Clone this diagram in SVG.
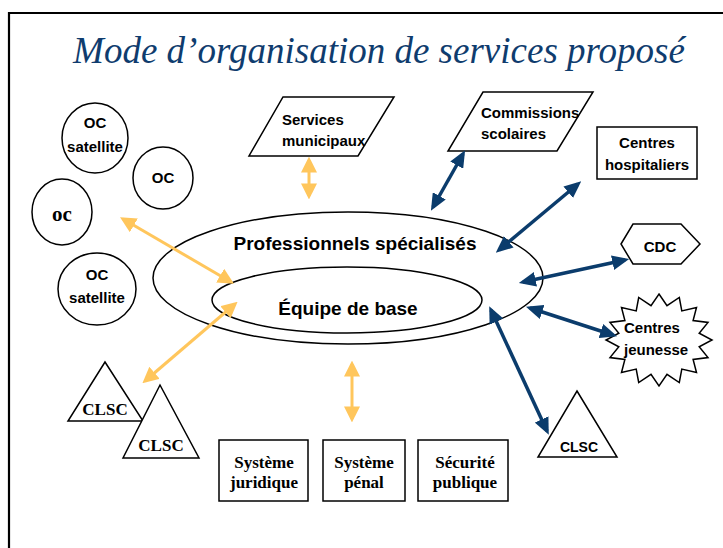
<svg xmlns="http://www.w3.org/2000/svg" width="723" height="548" viewBox="0 0 723 548">
<style>
.shape{fill:#fff;stroke:#000;stroke-width:1.5}
.sans{font-family:"Liberation Sans",Arial,sans-serif;font-weight:bold;fill:#000}
.serif{font-family:"Liberation Serif","Times New Roman",serif;font-weight:bold;fill:#000}
.ya{stroke:#FFC65C;stroke-width:3;fill:none;marker-start:url(#yh);marker-end:url(#yh)}
.ba{stroke:#0B3C6C;stroke-width:3.5;fill:none;marker-start:url(#bh);marker-end:url(#bh)}
</style>
<defs>
<marker id="yh" markerUnits="userSpaceOnUse" markerWidth="16" markerHeight="16" viewBox="0 0 14 14" refX="11" refY="7" orient="auto-start-reverse"><path d="M0,0 L14,7 L0,14 z" fill="#FFC65C"/></marker>
<marker id="bh" markerUnits="userSpaceOnUse" markerWidth="17" markerHeight="15" viewBox="0 0 16 14" refX="12" refY="7" orient="auto-start-reverse"><path d="M0,0 L16,7 L0,14 z" fill="#0B3C6C"/></marker>
</defs>
<rect width="723" height="548" fill="#fff"/>
<path d="M9,548 V13 H723" fill="none" stroke="#000" stroke-width="2.2"/>
<text x="379" y="63" text-anchor="middle" font-family="'Liberation Serif','Times New Roman',serif" font-style="italic" font-size="37" fill="#0F3C6E">Mode d’organisation de services proposé</text>

<g id="professionnels">
<ellipse class="shape" cx="348" cy="278" rx="195" ry="66" stroke-width="2.5"/>
<text class="sans" x="355" y="250" text-anchor="middle" font-size="19">Professionnels spécialisés</text>
</g>
<g id="equipe">
<ellipse class="shape" cx="347" cy="300" rx="135" ry="33"/>
<text class="sans" x="348" y="315" text-anchor="middle" font-size="19">Équipe de base</text>
</g>

<g id="oc-sat1">
<ellipse class="shape" cx="95" cy="138" rx="33" ry="35"/>
<text class="sans" x="95" y="128" text-anchor="middle" font-size="15">OC</text>
<text class="sans" x="95" y="152" text-anchor="middle" font-size="15">satellite</text>
</g>
<g id="oc2">
<ellipse class="shape" cx="163" cy="178" rx="30" ry="31"/>
<text class="sans" x="163" y="183" text-anchor="middle" font-size="15">OC</text>
</g>
<g id="oc3">
<ellipse class="shape" cx="62" cy="212" rx="30" ry="33"/>
<text class="serif" x="62" y="221" text-anchor="middle" font-size="21">oc</text>
</g>
<g id="oc-sat2">
<ellipse class="shape" cx="97" cy="289" rx="39" ry="36"/>
<text class="sans" x="97" y="280" text-anchor="middle" font-size="15">OC</text>
<text class="sans" x="97" y="303" text-anchor="middle" font-size="15">satellite</text>
</g>

<g id="services-municipaux">
<polygon class="shape" points="283,97 394,97 358,156 249,156"/>
<text class="sans" x="282" y="125" font-size="15">Services</text>
<text class="sans" x="282" y="146" font-size="15">municipaux</text>
</g>
<g id="commissions">
<polygon class="shape" points="483,92 593,92 557,151 448,151"/>
<text class="sans" x="481" y="118" font-size="15">Commissions</text>
<text class="sans" x="481" y="139" font-size="15">scolaires</text>
</g>
<g id="centres-hospitaliers">
<rect class="shape" x="597" y="127" width="100" height="52"/>
<text class="sans" x="647" y="148" text-anchor="middle" font-size="15">Centres</text>
<text class="sans" x="647" y="170" text-anchor="middle" font-size="15">hospitaliers</text>
</g>
<g id="cdc">
<polygon class="shape" points="621,244 633,224 681,224 700,244 681,264 633,264"/>
<text class="sans" x="660" y="252" text-anchor="middle" font-size="15">CDC</text>
</g>
<g id="centres-jeunesse">
<polygon class="shape" points="659,294 667,305.7 679.3,297.5 681.8,310.9 696.5,307.5 693.1,320.6 708,322.4 699.2,333.2 712,340 699.2,346.8 708,357.6 693.1,359.4 696.5,372.5 681.8,369.1 679.3,382.5 667,374.3 659,386 651,374.3 638.7,382.5 636.2,369.1 621.5,372.5 624.9,359.4 610,357.6 618.8,346.8 606,340 618.8,333.2 610,322.4 624.9,320.6 621.5,307.5 636.2,310.9 638.7,297.5 651,305.7"/>
<text class="sans" x="624" y="333" font-size="15">Centres</text>
<text class="sans" x="624" y="355" font-size="15">jeunesse</text>
</g>

<g id="clsc1">
<polygon class="shape" points="105,362 143,421 68,421"/>
<text class="serif" x="105" y="415" text-anchor="middle" font-size="17">CLSC</text>
</g>
<g id="clsc2">
<polygon class="shape" points="160,385 199,458 123,458"/>
<text class="serif" x="161" y="451" text-anchor="middle" font-size="17">CLSC</text>
</g>
<g id="clsc3">
<polygon class="shape" points="577,391 617,457 538,457"/>
<text class="sans" x="579" y="452" text-anchor="middle" font-size="14">CLSC</text>
</g>

<g id="systeme-juridique">
<rect class="shape" x="219" y="440" width="89" height="61"/>
<text class="serif" x="264" y="468" text-anchor="middle" font-size="17">Système</text>
<text class="serif" x="264" y="488" text-anchor="middle" font-size="17">juridique</text>
</g>
<g id="systeme-penal">
<rect class="shape" x="323" y="440" width="82" height="61"/>
<text class="serif" x="364" y="468" text-anchor="middle" font-size="17">Système</text>
<text class="serif" x="364" y="488" text-anchor="middle" font-size="17">pénal</text>
</g>
<g id="securite-publique">
<rect class="shape" x="418" y="440" width="90" height="61"/>
<text class="serif" x="465" y="468" text-anchor="middle" font-size="17">Sécurité</text>
<text class="serif" x="465" y="488" text-anchor="middle" font-size="17">publique</text>
</g>

<g id="connectors">
<line class="ya" x1="309" y1="160" x2="309" y2="196"/>
<line class="ya" x1="123" y1="219" x2="231" y2="282"/>
<line class="ya" x1="145" y1="381" x2="235" y2="304"/>
<line class="ya" x1="352" y1="364" x2="352" y2="419"/>
<line class="ba" x1="463" y1="154" x2="433" y2="207"/>
<line class="ba" x1="578" y1="184" x2="499" y2="250"/>
<line class="ba" x1="625" y1="260" x2="523" y2="282"/>
<line class="ba" x1="530" y1="308" x2="613" y2="335"/>
<line class="ba" x1="491" y1="310" x2="547" y2="431"/>
</g>
</svg>
